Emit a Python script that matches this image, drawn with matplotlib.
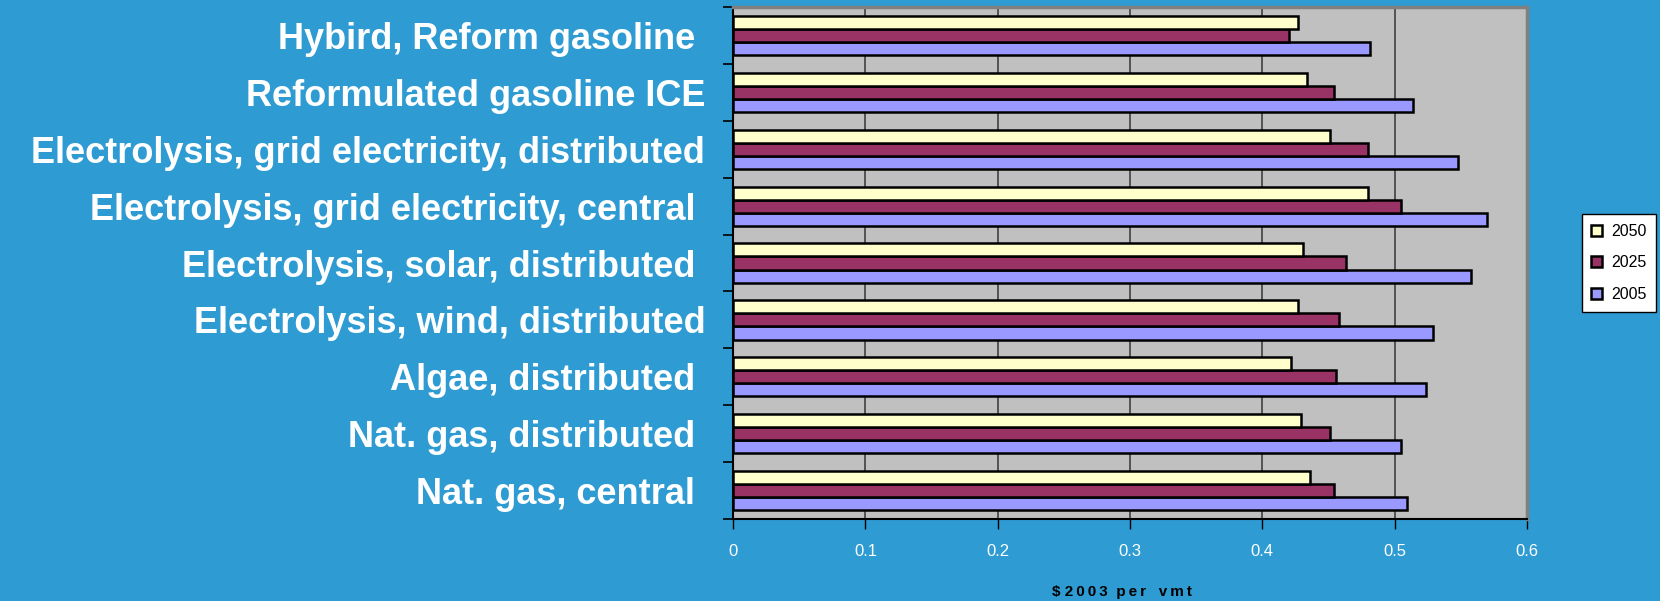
import numpy as np
import matplotlib
matplotlib.use('Agg')
import matplotlib.pyplot as plt

# categories bottom -> top
categories = ['Nat. gas, central ', 'Nat. gas, distributed ', 'Algae, distributed ',
              'Electrolysis, wind, distributed', 'Electrolysis, solar, distributed ',
              'Electrolysis, grid electricity, central ',
              'Electrolysis, grid electricity, distributed',
              'Reformulated gasoline ICE', 'Hybird, Reform gasoline ']
years = ['2005', '2025', '2050']
v2005 = [0.509, 0.505, 0.524, 0.529, 0.558, 0.570, 0.548, 0.514, 0.481]
v2025 = [0.454, 0.451, 0.456, 0.458, 0.463, 0.505, 0.480, 0.454, 0.420]
v2050 = [0.436, 0.429, 0.422, 0.427, 0.431, 0.480, 0.451, 0.434, 0.427]
xticks = [0, 0.1, 0.2, 0.3, 0.4, 0.5, 0.6]

bg = '#2E9BD3'
colors = ['#9999FF', '#993366', '#FFFFCC']
arial = ['Liberation Sans', 'DejaVu Sans']

fig = plt.figure(figsize=(16.6, 6.01), dpi=100, facecolor=bg)
ax = fig.add_axes([0.4416, 0.1364, 0.4783, 0.8519])
ax.set_facecolor('#C0C0C0')

y = np.arange(len(categories))
h = 0.23
bars = []
for k, vals in enumerate([v2005, v2025, v2050]):
    b = ax.barh(y + (k - 1) * h, vals, height=h, color=colors[k],
                edgecolor='black', linewidth=1.8, label=years[k], zorder=3)
    bars.append(b)

ax.set_xlim(0, 0.6)
ax.set_ylim(-0.5, len(categories) - 0.5)
ax.set_xticks(xticks)
ax.set_xticklabels([str(t) if t != 0 else '0' for t in xticks],
                   color='white', fontsize=12, family=arial)
ax.tick_params(axis='x', direction='out', length=7, width=1, color='black', pad=11)
ax.grid(axis='x', color='#4a4a4a', linewidth=1.3, zorder=1)

ax.set_yticks(np.arange(len(categories) + 1) - 0.5)
ax.set_yticklabels([])
ax.tick_params(axis='y', which='major', direction='out', length=7, width=1.2, color='black')
ax.set_yticks(y, minor=True)
ax.set_yticklabels(categories, minor=True, color='white', fontsize=26,
                   fontweight='bold', family=arial)
ax.tick_params(axis='y', which='minor', length=0, pad=20)

for s in ['left', 'bottom']:
    ax.spines[s].set_color('black')
    ax.spines[s].set_linewidth(1.5)
for s in ['top', 'right']:
    ax.spines[s].set_color('#808080')
    ax.spines[s].set_linewidth(2.5)

ts = '\u2009'
xlab = '\\$ ' + ts.join('2003') + '  ' + ts.join('per') + '   ' + ts.join('vmt')
ax.set_xlabel(xlab, fontsize=11, fontweight='bold', color='black', family=arial)
ax.xaxis.set_label_coords(0.49, -0.142)
ax.xaxis.label.set_va('center')

leg = fig.legend(handles=bars[::-1], labels=years[::-1], loc='center right',
                 bbox_to_anchor=(0.9976, 0.5624), frameon=True, fancybox=False,
                 edgecolor='black', facecolor='white', framealpha=1,
                 prop={'family': arial, 'size': 11.5},
                 handlelength=0.7, handleheight=0.7, labelspacing=1.05,
                 borderpad=0.6, handletextpad=0.55, borderaxespad=0)
leg.get_frame().set_linewidth(1.0)

fig.savefig('out.png', dpi=100, facecolor=bg)
